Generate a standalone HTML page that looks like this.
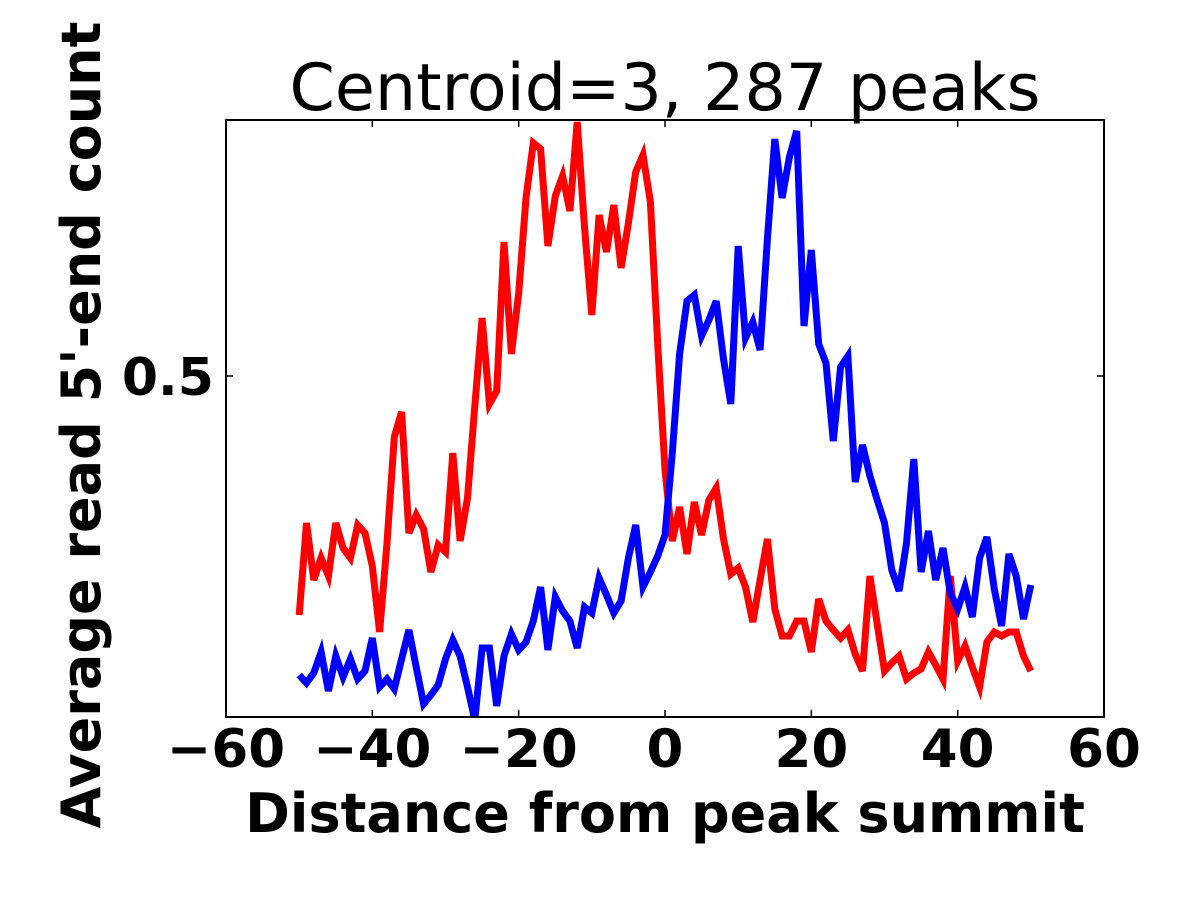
<!DOCTYPE html>
<html><head><meta charset="utf-8"><style>
html,body{margin:0;padding:0;background:#fff;}
svg{display:block;font-family:"DejaVu Sans","Liberation Sans",sans-serif;}
</style></head><body>
<svg id="chart" width="1200" height="900">
<rect width="1200" height="900" fill="#fff"/>
<defs><clipPath id="clip"><rect x="226" y="120" width="878" height="597"/></clipPath></defs>
<text x="665" y="110" text-anchor="middle" font-size="65">Centroid=3, 287 peaks</text>
<g id="lines" clip-path="url(#clip)"></g>
<rect x="226" y="120" width="878" height="597" fill="none" stroke="#000" stroke-width="2"/>
<g id="ticks"></g>
<text x="665" y="832" text-anchor="middle" font-size="54" font-weight="bold">Distance from peak summit</text>
<text transform="translate(100,425) rotate(-90)" text-anchor="middle" font-size="54" font-weight="bold">Average read 5'-end count</text>
</svg>
<script>
const xTicks=[-60,-40,-20,0,20,40,60];
const xTickLabels=["\u221260","\u221240","\u221220","0","20","40","60"];
const yTicks=[0.5];
const yTickLabels=["0.5"];
const positions=[];for(let i=-50;i<=50;i++)positions.push(i);
const redValues=[0.261,0.353,0.296,0.318,0.300,0.353,0.328,0.318,0.351,0.343,0.310,0.244,0.333,0.439,0.464,0.343,0.361,0.347,0.304,0.331,0.324,0.423,0.335,0.378,0.470,0.558,0.472,0.485,0.634,0.522,0.583,0.678,0.733,0.727,0.630,0.680,0.700,0.665,0.754,0.649,0.561,0.661,0.624,0.671,0.608,0.653,0.704,0.721,0.674,0.532,0.406,0.335,0.369,0.322,0.374,0.341,0.376,0.388,0.337,0.302,0.308,0.289,0.254,0.296,0.337,0.267,0.240,0.240,0.255,0.255,0.224,0.277,0.255,0.246,0.238,0.246,0.222,0.205,0.300,0.252,0.205,0.213,0.220,0.197,0.203,0.207,0.224,0.211,0.197,0.300,0.215,0.230,0.209,0.189,0.234,0.244,0.240,0.244,0.244,0.220,0.205];
const blueValues=[0.201,0.193,0.203,0.224,0.185,0.220,0.199,0.217,0.197,0.205,0.238,0.189,0.197,0.187,0.217,0.246,0.209,0.172,0.181,0.191,0.217,0.236,0.220,0.189,0.156,0.228,0.228,0.170,0.220,0.242,0.226,0.234,0.255,0.289,0.226,0.279,0.265,0.255,0.228,0.269,0.263,0.298,0.281,0.263,0.275,0.318,0.351,0.289,0.304,0.320,0.341,0.423,0.522,0.575,0.581,0.540,0.556,0.575,0.517,0.472,0.630,0.538,0.554,0.526,0.637,0.737,0.678,0.719,0.745,0.550,0.626,0.532,0.513,0.435,0.509,0.520,0.394,0.431,0.400,0.376,0.353,0.306,0.285,0.333,0.417,0.304,0.345,0.296,0.328,0.283,0.267,0.289,0.259,0.318,0.339,0.287,0.250,0.322,0.300,0.257,0.291];
const X0=226,X1=1104,Y0=717,Y1=120,XMIN=-60,XMAX=60,YMIN=0.159,YMAX=0.756;
function xs(v){return X0+(v-XMIN)/(XMAX-XMIN)*(X1-X0);}
function ys(v){return Y0-(v-YMIN)/(YMAX-YMIN)*(Y0-Y1);}
const NS="http://www.w3.org/2000/svg";
const lines=document.getElementById('lines');
function addLine(vals,color,name){
  const p=document.createElementNS(NS,'polyline');
  p.setAttribute('points',vals.map((v,i)=>xs(positions[i]).toFixed(1)+','+ys(v).toFixed(1)).join(' '));
  p.setAttribute('fill','none');p.setAttribute('stroke',color);p.setAttribute('stroke-width','7');p.setAttribute('stroke-linejoin','miter');
  
  
  lines.appendChild(p);
}
addLine(redValues,'#ff0000','red-series-line');
addLine(blueValues,'#0000ff','blue-series-line');
const tg=document.getElementById('ticks');
xTicks.forEach((t,i)=>{
  const x=xs(t);
  [[Y0,Y0-7],[Y1,Y1+7]].forEach(([a,b])=>{
    const l=document.createElementNS(NS,'line');
    l.setAttribute('x1',x);l.setAttribute('x2',x);l.setAttribute('y1',a);l.setAttribute('y2',b);l.setAttribute('stroke','#000');l.setAttribute('stroke-width','1.5');
    
    
    tg.appendChild(l);
  });
  const tx=document.createElementNS(NS,'text');
  tx.setAttribute('x',x);tx.setAttribute('y',767);tx.setAttribute('text-anchor','middle');tx.setAttribute('font-size','53');tx.setAttribute('font-weight','bold');
  tx.textContent=xTickLabels[i];
  
  
  tg.appendChild(tx);
});
yTicks.forEach((t,i)=>{
  const y=ys(t);
  [[X0,X0+7],[X1,X1-7]].forEach(([a,b])=>{
    const l=document.createElementNS(NS,'line');
    l.setAttribute('x1',a);l.setAttribute('x2',b);l.setAttribute('y1',y);l.setAttribute('y2',y);l.setAttribute('stroke','#000');l.setAttribute('stroke-width','1.5');
    
    
    tg.appendChild(l);
  });
  const tx=document.createElementNS(NS,'text');
  tx.setAttribute('x',214);tx.setAttribute('y',y+19);tx.setAttribute('text-anchor','end');tx.setAttribute('font-size','52');tx.setAttribute('font-weight','bold');
  tx.textContent=yTickLabels[i];
  
  
  tg.appendChild(tx);
});
</script>
</body></html>
